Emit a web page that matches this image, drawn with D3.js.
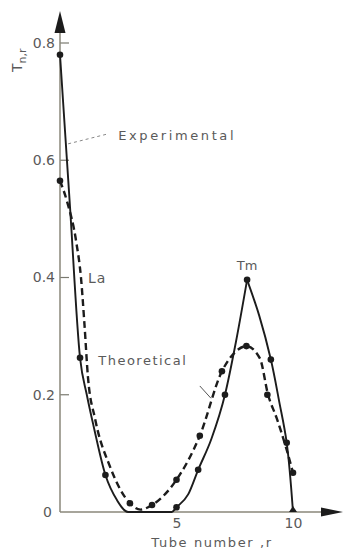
<!DOCTYPE html>
<html>
<head>
<meta charset="utf-8">
<script src="https://cdn.jsdelivr.net/npm/d3@7"></script>
<style>
  body { margin: 0; background: #fff; }
  text { font-family: "DejaVu Sans", sans-serif; fill: #5a5a5a; }
</style>
</head>
<body>
<svg id="fig" width="344" height="555"></svg>
<script>
// experimental curve (solid), split at the Tm peak
const expLeftR  = [0, 0.43, 0.86, 1.15, 1.45, 1.95, 2.45, 2.92, 4.8, 5.0, 5.5, 5.93, 6.5, 7.08, 7.55, 8.03];
const expLeftT  = [0.78, 0.52, 0.263, 0.2, 0.145, 0.063, 0.02, 0, 0, 0.008, 0.03, 0.072, 0.125, 0.2, 0.29, 0.396];
const expRightR = [8.03, 8.55, 9.05, 9.4, 9.73, 10];
const expRightT = [0.396, 0.335, 0.26, 0.19, 0.118, 0];

// theoretical curve (dashed)
const theoR = [0, 0.3, 0.7, 0.9, 1.05, 1.2, 1.5, 2.15, 3.0, 3.45, 3.95, 5.0, 6.0, 6.95, 7.5, 8.0, 8.58, 8.93, 9.3, 9.7, 10];
const theoT = [0.565, 0.53, 0.46, 0.4, 0.32, 0.23, 0.16, 0.077, 0.015, 0.004, 0.012, 0.055, 0.13, 0.24, 0.272, 0.283, 0.262, 0.2, 0.16, 0.11, 0.067];

// plotted points
const expDotR  = [0, 0.86, 1.95, 5.0, 5.93, 7.08, 8.03, 9.05, 9.73];
const expDotT  = [0.78, 0.263, 0.063, 0.008, 0.072, 0.2, 0.396, 0.26, 0.118];
const theoDotR = [0, 3.0, 3.95, 5.0, 6.0, 6.95, 8.0, 8.9, 10];
const theoDotT = [0.565, 0.015, 0.012, 0.055, 0.13, 0.24, 0.283, 0.2, 0.067];
const triR = [10];
const triT = [0];

const yTicks = [0, 0.2, 0.4, 0.6, 0.8];
const yTickLabels = ["0", "0.2", "0.4", "0.6", "0.8"];
const xTicks = [5, 10];

const fig = d3.select("#fig");
const ink = "#1c1c1c";
const axisCol = "#8a877a";

const x = d3.scaleLinear().domain([0, 10]).range([60, 293]);
const y = d3.scaleLinear().domain([0, 0.8]).range([512, 43]);

const zip = (R, T) => R.map((r, i) => [r, T[i]]);
const line = d3.line().x(d => x(d[0])).y(d => y(d[1])).curve(d3.curveMonotoneX);
const lineCR = d3.line().x(d => x(d[0])).y(d => y(d[1])).curve(d3.curveCatmullRom.alpha(0.5));

// axes
const yAxis = d3.axisLeft(y).tickValues(yTicks).tickSize(0).tickPadding(6)
    .tickFormat((d, i) => yTickLabels[i]);
const gy = fig.append("g").attr("transform", `translate(${x(0)},0)`).call(yAxis);
gy.select(".domain").remove();
gy.selectAll(".tick text").style("font-size", "14px").attr("fill", "#666").attr("x", -5);
gy.selectAll(".tick").filter(d => d === 0).select("text").attr("x", -8);

// inward tick marks
fig.selectAll(".ytick").data(yTicks.filter(d => d > 0)).join("line")
    .attr("x1", x(0)).attr("x2", x(0) + 9)
    .attr("y1", d => y(d)).attr("y2", d => y(d))
    .attr("stroke", "#7a7a70").attr("stroke-width", 1.2);

const xAxis = d3.axisBottom(x).tickValues(xTicks).tickSize(0).tickPadding(6);
const gx = fig.append("g").attr("transform", `translate(0,${y(0)})`).call(xAxis);
gx.select(".domain").remove();
gx.selectAll(".tick text").style("font-size", "14px").attr("fill", "#666");

fig.append("line").attr("x1", x(0)).attr("x2", x(0)).attr("y1", 30).attr("y2", y(0))
    .attr("stroke", axisCol).attr("stroke-width", 1.5);
fig.append("line").attr("x1", x(0)).attr("x2", 324).attr("y1", y(0)).attr("y2", y(0))
    .attr("stroke", axisCol).attr("stroke-width", 1.5);
fig.append("path").attr("d", `M${x(0)},11 L${x(0) - 5.5},33 L${x(0) + 5.5},33 Z`).attr("fill", ink);
fig.append("path").attr("d", `M343,${y(0)} L321,${y(0) - 4.5} L321,${y(0) + 4.5} Z`).attr("fill", ink);

// curves
fig.append("path").attr("d", line(zip(expLeftR, expLeftT)))
    .attr("fill", "none").attr("stroke", ink).attr("stroke-width", 1.9);
fig.append("path").attr("d", lineCR(zip(expRightR, expRightT)))
    .attr("fill", "none").attr("stroke", ink).attr("stroke-width", 1.9);
fig.append("path").attr("d", line(zip(theoR, theoT)))
    .attr("fill", "none").attr("stroke", ink).attr("stroke-width", 2.4)
    .attr("stroke-dasharray", "7,4");

// markers
fig.selectAll(".expdot").data(zip(expDotR, expDotT)).join("circle")
    .attr("cx", d => x(d[0])).attr("cy", d => y(d[1])).attr("r", 3.3).attr("fill", ink);
fig.selectAll(".theodot").data(zip(theoDotR, theoDotT)).join("circle")
    .attr("cx", d => x(d[0])).attr("cy", d => y(d[1])).attr("r", 3.3).attr("fill", ink);
fig.selectAll(".tri").data(zip(triR, triT)).join("path")
    .attr("d", d => `M${x(d[0])},${y(d[1]) - 6} L${x(d[0]) - 4},${y(d[1])} L${x(d[0]) + 4},${y(d[1])} Z`)
    .attr("fill", ink);

// annotations
fig.append("line").attr("x1", x(0.35)).attr("y1", y(0.628)).attr("x2", x(2.06)).attr("y2", y(0.645))
    .attr("stroke", "#888").attr("stroke-width", 1).attr("stroke-dasharray", "3,3");
fig.append("text").attr("x", x(2.5)).attr("y", y(0.635)).text("Experimental")
    .style("font-size", "13px").style("letter-spacing", "2.6px");
fig.append("text").attr("x", x(1.2)).attr("y", y(0.39)).text("La")
    .style("font-size", "14px").style("letter-spacing", "1px");
fig.append("text").attr("x", x(1.64)).attr("y", y(0.25)).text("Theoretical")
    .style("font-size", "13px").style("letter-spacing", "1.5px");
fig.append("line").attr("x1", x(6.0)).attr("y1", y(0.215)).attr("x2", x(6.48)).attr("y2", y(0.194))
    .attr("stroke", "#555").attr("stroke-width", 1);
fig.append("text").attr("x", x(8.03)).attr("y", y(0.413)).attr("text-anchor", "middle").text("Tm")
    .style("font-size", "13px");

// axis titles
fig.append("text").attr("x", 212).attr("y", 547).attr("text-anchor", "middle")
    .text("Tube number ,r").style("font-size", "13px").style("letter-spacing", "1.6px");
const yl = fig.append("text").attr("transform", "translate(22,72) rotate(-90)")
    .style("font-size", "14px");
yl.append("tspan").text("T");
yl.append("tspan").attr("dy", 4).style("font-size", "11px").text("n,r");
</script>
</body>
</html>
